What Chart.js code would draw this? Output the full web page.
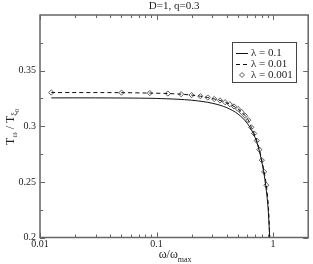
<!DOCTYPE html>
<html>
<head>
<meta charset="utf-8">
<script src="https://cdn.jsdelivr.net/npm/chart.js@4.4.0/dist/chart.umd.min.js"></script>
<style>
  html, body { margin: 0; padding: 0; background: #fff; }
  #wrap { width: 313px; height: 264px; }
</style>
</head>
<body>
<div id="wrap"><canvas id="chart"></canvas></div>
<script>
const titleText = "D=1, q=0.3";
const seriesLabels = ["λ = 0.1", "λ = 0.01", "λ = 0.001"];

// lambda = 0.1 (solid)
const omegaSolid = [0.0125, 0.03, 0.05, 0.08, 0.1, 0.15, 0.2, 0.25, 0.3, 0.35, 0.4, 0.45, 0.5, 0.55, 0.6, 0.65, 0.7, 0.75, 0.8, 0.85, 0.9, 0.935];
const tSolid = [0.3255, 0.3255, 0.3254, 0.3252, 0.3250, 0.3243, 0.3234, 0.3222, 0.3207, 0.3189, 0.3167, 0.3141, 0.3110, 0.3072, 0.3026, 0.2970, 0.2900, 0.2805, 0.2680, 0.2520, 0.2300, 0.2000];

// lambda = 0.001 (diamonds)
const omegaDiamond = [0.0125, 0.05, 0.0875, 0.125, 0.1625, 0.2, 0.2375, 0.275, 0.3125, 0.35, 0.3875, 0.425, 0.4625, 0.5, 0.5375, 0.575, 0.6125, 0.65, 0.6875, 0.725, 0.7625, 0.8, 0.8375, 0.875];
const tDiamond = [0.3303, 0.3302, 0.3298, 0.3294, 0.3288, 0.3280, 0.3270, 0.3258, 0.3245, 0.3232, 0.3216, 0.3198, 0.3178, 0.3155, 0.3128, 0.3095, 0.3055, 0.2990, 0.2935, 0.2870, 0.2790, 0.2695, 0.2590, 0.2470];

// lambda = 0.01 (dashed)
const omegaDashed = [0.0125, 0.05, 0.0875, 0.125, 0.1625, 0.2, 0.2375, 0.275, 0.3125, 0.35, 0.3875, 0.425, 0.4625, 0.5, 0.5375, 0.575, 0.6125, 0.65, 0.6875, 0.725, 0.7625, 0.8, 0.8375, 0.875, 0.9125, 0.935];
const tDashed = [0.3303, 0.3302, 0.3298, 0.3294, 0.3288, 0.3280, 0.3270, 0.3258, 0.3245, 0.3232, 0.3216, 0.3198, 0.3178, 0.3155, 0.3128, 0.3095, 0.3055, 0.2990, 0.2935, 0.2870, 0.2790, 0.2695, 0.2590, 0.2470, 0.2270, 0.2000];

const xMajor = [0.01, 0.1, 1];
const xTickLabels = ["0.01", "0.1", "1"];
const xMinor = [0.02, 0.03, 0.04, 0.05, 0.06, 0.07, 0.08, 0.09, 0.2, 0.3, 0.4, 0.5, 0.6, 0.7, 0.8, 0.9, 2];
const yMajor = [0.2, 0.25, 0.3, 0.35];
const yTickLabels = ["0.2", "0.25", "0.3", "0.35"];
const yMinor = [0.225, 0.275, 0.325, 0.375];

const SERIF = "'Liberation Serif', 'DejaVu Serif', serif";
const INK = "#222";
const FRAME = "#666";

function pts(xs, ys) { return xs.map((x, i) => ({ x: x, y: ys[i] })); }

// text with sub/superscript pieces, centred at (cx, cy)
function drawRich(ctx, parts, cx, cy, angle) {
  ctx.save();
  ctx.translate(cx, cy);
  ctx.rotate(angle || 0);
  let w = 0;
  parts.forEach(p => { ctx.font = p.size + "px " + SERIF; w += ctx.measureText(p.t).width; });
  let x = -w / 2;
  ctx.fillStyle = INK;
  ctx.textBaseline = "alphabetic";
  ctx.textAlign = "left";
  parts.forEach(p => {
    ctx.font = p.size + "px " + SERIF;
    ctx.fillText(p.t, x, 4 + (p.dy || 0));
    x += ctx.measureText(p.t).width;
  });
  ctx.restore();
}

const decorations = {
  id: "decorations",
  afterDraw(chart) {
    const ctx = chart.ctx;
    const a = chart.chartArea;
    const xs = chart.scales.x, ys = chart.scales.y;
    ctx.save();
    ctx.strokeStyle = FRAME;
    ctx.lineWidth = 1.5;
    ctx.strokeRect(a.left, a.top, a.right - a.left, a.bottom - a.top);

    ctx.lineWidth = 1;
    ctx.beginPath();
    const xt = (v, len) => {
      const px = Math.round(xs.getPixelForValue(v)) + 0.5;
      ctx.moveTo(px, a.bottom); ctx.lineTo(px, a.bottom - len);
      ctx.moveTo(px, a.top); ctx.lineTo(px, a.top + len);
    };
    const yt = (v, len) => {
      const py = Math.round(ys.getPixelForValue(v)) + 0.5;
      ctx.moveTo(a.left, py); ctx.lineTo(a.left + len, py);
      ctx.moveTo(a.right, py); ctx.lineTo(a.right - len, py);
    };
    xMajor.forEach(v => xt(v, 5));
    xMinor.forEach(v => xt(v, 3));
    yMajor.forEach(v => yt(v, 5));
    yMinor.forEach(v => yt(v, 3));
    ctx.stroke();

    // title
    ctx.fillStyle = INK;
    ctx.font = "11px " + SERIF;
    ctx.textAlign = "center";
    ctx.textBaseline = "middle";
    ctx.fillText(titleText, (a.left + a.right) / 2, 6);

    // axis titles
    drawRich(ctx, [
      { t: "ω/ω", size: 12 },
      { t: "max", size: 8, dy: 4 }
    ], (a.left + a.right) / 2 + 1, 254, 0);
    drawRich(ctx, [
      { t: "T", size: 12 },
      { t: "ω", size: 8, dy: 3 },
      { t: " / T", size: 12 },
      { t: "ξ", size: 8, dy: 3 },
      { t: "0", size: 6, dy: 5 }
    ], 9.5, 127, -Math.PI / 2);

    // legend
    const lx = 232.5, ly = 42.5, lw = 64, lh = 40;
    ctx.fillStyle = "#fff";
    ctx.fillRect(lx, ly, lw, lh);
    ctx.strokeStyle = "#444";
    ctx.lineWidth = 1;
    ctx.strokeRect(lx, ly, lw, lh);
    const rows = [53, 64, 75];
    chart.data.datasets.forEach((ds, i) => {
      const y = rows[i];
      ctx.strokeStyle = "#111";
      ctx.lineWidth = 1;
      if (ds.showLine !== false) {
        ctx.setLineDash(ds.borderDash || []);
        ctx.beginPath();
        ctx.moveTo(236, y + 0.5); ctx.lineTo(248, y + 0.5);
        ctx.stroke();
        ctx.setLineDash([]);
      } else {
        ctx.fillStyle = "#fff";
        ctx.beginPath();
        ctx.moveTo(242, y - 2.5); ctx.lineTo(244.5, y); ctx.lineTo(242, y + 2.5); ctx.lineTo(239.5, y);
        ctx.closePath();
        ctx.fill();
        ctx.strokeStyle = "#333";
        ctx.lineWidth = 0.8;
        ctx.stroke();
      }
      ctx.fillStyle = INK;
      ctx.font = "11px " + SERIF;
      ctx.textAlign = "left";
      ctx.textBaseline = "middle";
      ctx.fillText(ds.label, 251, y + 0.5);
    });
    ctx.restore();
  }
};

new Chart(document.getElementById("chart"), {
  type: "line",
  data: {
    datasets: [
      {
        label: seriesLabels[0],
        data: pts(omegaSolid, tSolid),
        borderColor: "#111",
        borderWidth: 1,
        pointRadius: 0,
        tension: 0.3,
        fill: false
      },
      {
        label: seriesLabels[1],
        data: pts(omegaDashed, tDashed),
        borderColor: "#111",
        borderWidth: 1,
        borderDash: [4, 3],
        pointRadius: 0,
        tension: 0.3,
        fill: false
      },
      {
        label: seriesLabels[2],
        data: pts(omegaDiamond, tDiamond),
        showLine: false,
        pointStyle: "rectRot",
        pointRadius: 2.6,
        pointBorderWidth: 0.8,
        pointBorderColor: "#333",
        pointBackgroundColor: "#fff"
      }
    ]
  },
  options: {
    responsive: true,
    maintainAspectRatio: false,
    animation: false,
    devicePixelRatio: 1,
    layout: { padding: { top: 15, right: 1.5, left: 0, bottom: 0 } },
    plugins: { legend: { display: false }, title: { display: false }, tooltip: { enabled: false } },
    scales: {
      x: {
        type: "logarithmic",
        min: 0.01,
        max: 2,
        afterBuildTicks: s => { s.ticks = xMajor.map(v => ({ value: v })); },
        afterFit: s => { s.height = 26.5; },
        grid: { display: false, drawTicks: false },
        border: { display: false },
        ticks: {
          autoSkip: false,
          maxRotation: 0,
          padding: 1,
          color: INK,
          font: { family: SERIF, size: 10 },
          callback: v => { const i = xMajor.indexOf(v); return i >= 0 ? xTickLabels[i] : ""; }
        }
      },
      y: {
        type: "linear",
        min: 0.2,
        max: 0.4,
        afterBuildTicks: s => { s.ticks = yMajor.map(v => ({ value: v })); },
        afterFit: s => { s.width = 40; },
        grid: { display: false, drawTicks: false },
        border: { display: false },
        ticks: {
          padding: 4,
          color: INK,
          font: { family: SERIF, size: 10 },
          callback: v => { const i = yMajor.findIndex(m => Math.abs(m - v) < 1e-9); return i >= 0 ? yTickLabels[i] : ""; }
        }
      }
    }
  },
  plugins: [decorations]
});
</script>
</body>
</html>
